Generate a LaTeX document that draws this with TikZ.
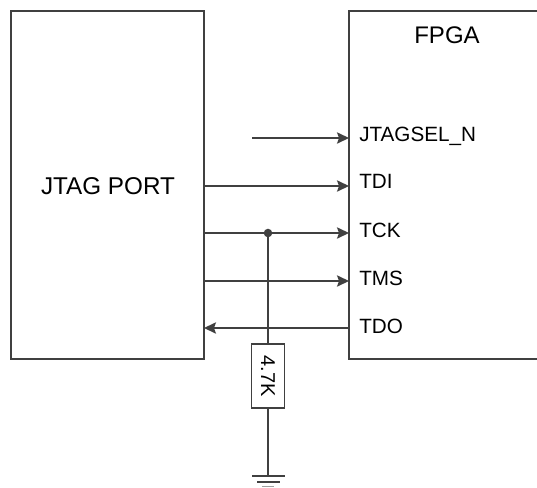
\documentclass[tikz,border=0pt]{standalone}
\usepackage{fontspec}
\setmainfont{Liberation Sans}
\usetikzlibrary{arrows.meta}
\definecolor{wirecol}{HTML}{404040}
\tikzset{
  block/.style={draw=wirecol,line width=1pt,fill=none,minimum height=261pt,inner sep=0pt},
  wire/.style={draw=wirecol,line width=1pt},
  sig/.style={wire,-{Stealth[length=9pt,width=8.5pt,inset=1.5pt]}},
  pin/.style={anchor=base west,font=\fontsize{15.5pt}{18pt}\selectfont,inner sep=0pt}
}
\begin{document}
\begin{tikzpicture}[x=0.75pt,y=-0.75pt]
\useasboundingbox (0,0) rectangle (537,487);
\node[block,minimum width=144.75pt] (jtag) at (107.5,185) {};
\node[block,minimum width=150pt] (fpga) at (449,185) {};
\node[font=\fontsize{18.2pt}{21pt}\selectfont] (jtaglabel) at (108,186) {JTAG PORT};
\node[font=\fontsize{18pt}{21pt}\selectfont,inner sep=0pt] (fpgalabel) at (447,35) {FPGA};
\node[pin] (jtagsel) at (359,141) {JTAGSEL\_N};
\node[pin] (tdi) at (359,188) {TDI};
\node[pin] (tck) at (359,237) {TCK};
\node[pin] (tms) at (359,285) {TMS};
\node[pin] (tdo) at (359,333) {TDO};
\coordinate (selstart) at (252,138);
\coordinate (selend) at (349,138);
\coordinate (tdistart) at (204,186);
\coordinate (tdiend) at (349,186);
\coordinate (tckstart) at (204,233);
\coordinate (tckend) at (349,233);
\coordinate (tmsstart) at (204,281);
\coordinate (tmsend) at (349,281);
\coordinate (tdostart) at (349,328);
\coordinate (tdoend) at (204,328);
\coordinate (tap) at (268,233);
\node[draw=wirecol,line width=1pt,minimum width=24.5pt,minimum height=48pt,inner sep=0pt] (res) at (268,376) {\rotatebox{-90}{\fontsize{15pt}{18pt}\selectfont 4.7K}};
\coordinate (gnd) at (268,476);
\draw[sig] (selstart) -- (selend);
\draw[sig] (tdistart) -- (tdiend);
\draw[sig] (tckstart) -- (tckend);
\draw[sig] (tmsstart) -- (tmsend);
\draw[sig] (tdostart) -- (tdoend);
\draw[wire] (tap) -- (res.north);
\draw[wire] (res.south) -- (gnd);
\fill[wirecol] (tap) circle (3.2pt);
\draw[wire] (252,476) -- (285,476);
\draw[wire] (257,482) -- (280,482);
\draw[wire,draw=wirecol!50] (262,486.5) -- (274,486.5);
\end{tikzpicture}
\end{document}
